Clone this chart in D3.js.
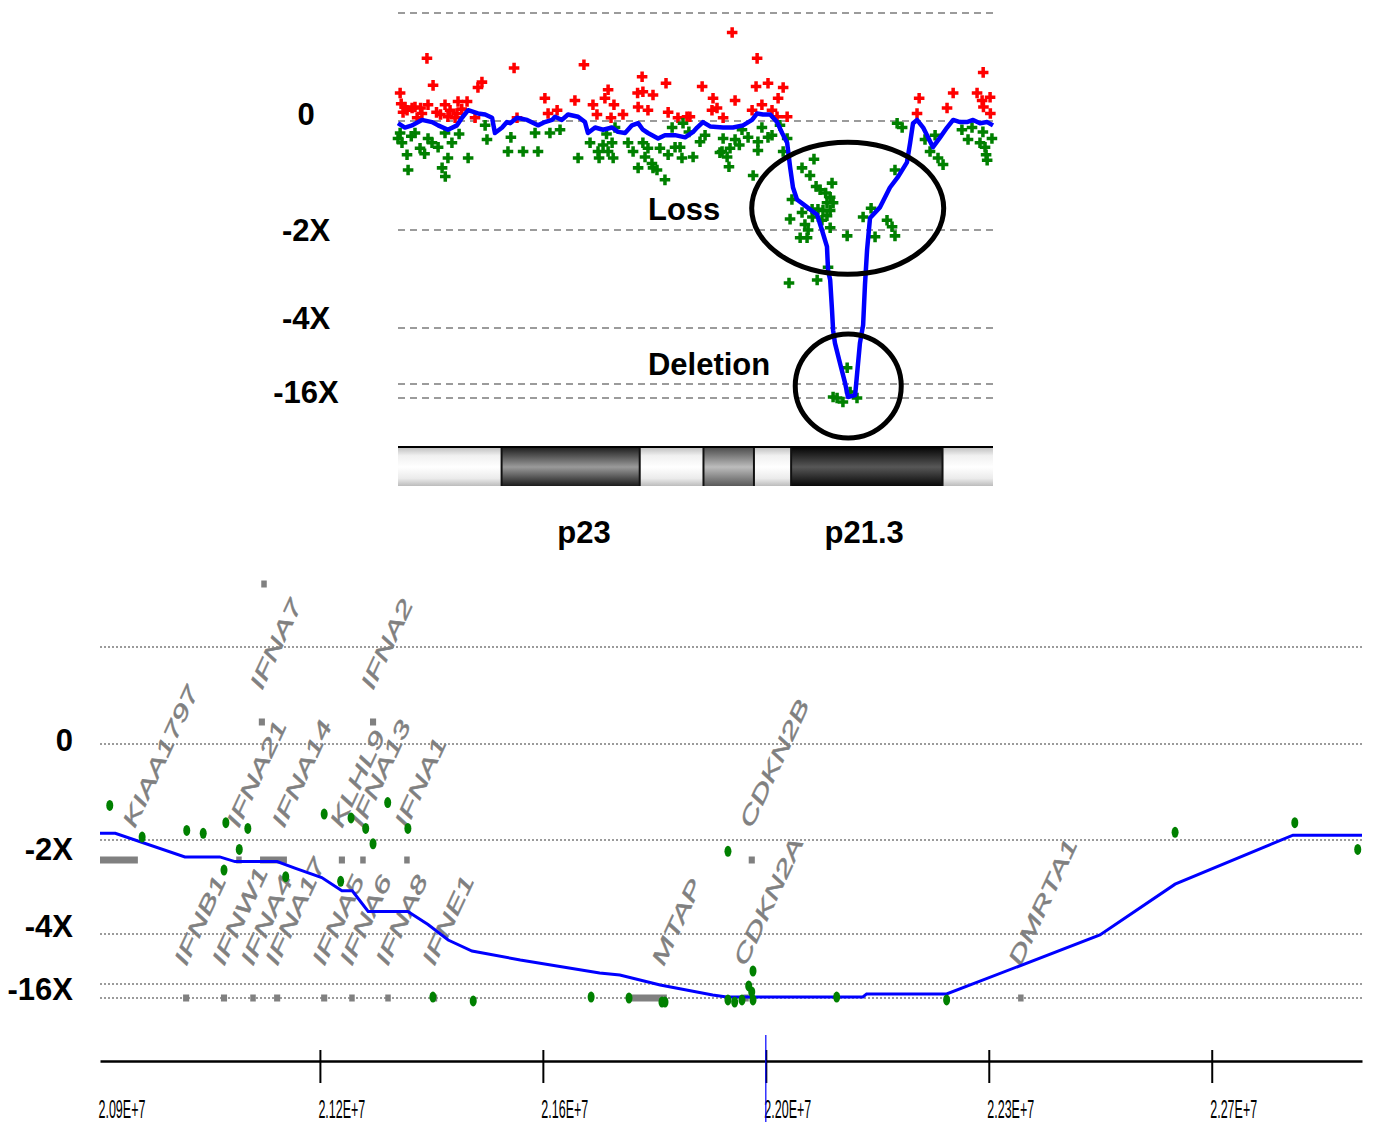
<!DOCTYPE html>
<html>
<head>
<meta charset="utf-8">
<script src="https://cdn.jsdelivr.net/npm/d3@7"></script>
<style>
  body { margin: 0; background: #fff; }
  svg { display: block; }
</style>
</head>
<body>
<div id="chart"></div>
<script>
// ---------- shared copy-number levels (log2 ratio) ----------
var levelVals = [1, 0, -1, -2, -3, -4];
var levelLabels = ["0", "-2X", "-4X", "-16X"];
var topLabelPos = [0.07, -1, -1.9, -3.57];
var botLabelPos = [0.04, -1.09, -1.91, -3.36];

// ---------- top panel: chromosome 9p overview (Mb) ----------
var topRedPos = [6.19,6.42,5.18,5.36,5.63,5.74,5.29,6.23,6.00,5.82, 6.87,7.06,7.32,7.36,7.70,6.98,7.25,8.00,8.11,8.26,
  9.47,9.58,10.63,10.75,11.09,11.76,12.10,12.44,12.59,12.89, 13.01,13.23,13.12,13.57,14.14,14.29,14.12,14.32,14.70,14.51,
  15.19,15.27,15.64,15.98,17.68,16.55,16.96,16.92,17.11,17.34, 17.79,18.62,18.58,19.03,18.80,18.43,19.18,19.41,19.60,19.37,
  19.75,16.09,24.72,24.64,25.77,26.00,27.13,26.90,27.09,27.39, 27.14,27.40,5.44,5.95,6.55,7.50,5.22,6.70];
var topRedVal = [0.58,0.33,0.26,0.13,0.12,0.13,0.08,0.15,0.07,0.03, 0.15,0.10,0.07,0.18,0.18,0.04,0.03,0.03,0.31,0.36,
  0.49,0.03,0.21,0.07,0.10,0.19,0.52,0.15,0.06,0.21, 0.29,0.15,0.03,0.06,0.13,0.41,0.26,0.27,0.24,0.10,
  0.35,0.08,0.03,0.04,0.82,0.32,0.21,0.10,0.12,0.03, 0.19,0.58,0.32,0.35,0.15,0.10,0.10,0.21,0.31,0.04,
  0.04,0.04,0.21,0.07,0.12,0.26,0.45,0.26,0.19,0.22, 0.13,0.07,0.10,0.12,0.08,0.11,0.16,0.06];

var topGreenPos = [5.18,5.25,5.44,5.48,5.10,5.74,5.93,6.23,6.38,6.61, 6.87,6.98,6.76,6.88,7.13,7.74,8.38,8.45,9.24,9.35,
  9.81,10.26,10.37,10.82,11.20,11.88,12.33,12.63,12.67,12.82, 13.16,13.20,13.27,13.01,13.76,13.95,14.14,14.32,14.51,14.66,
  14.70,14.85,14.96,15.15,15.27,15.53,15.72,15.79,15.42,15.83, 16.21,16.47,16.66,17.30,17.34,17.49,17.60,17.56,17.79,18.05,
  18.28,18.47,18.65,18.65,18.80,19.03,19.18,19.48,19.75,19.60, 17.22,20.31,20.76,20.61,20.84,20.99,21.44,21.37,21.25,21.48,
  21.37,21.10,20.91,20.69,19.93,20.31,19.86,20.42,20.54,20.24, 20.50,21.37,21.06,21.25,22.01,21.29,20.88,19.82,22.91,22.61,
  23.06,23.51,23.70,23.81,23.81,22.01,21.63,21.85,22.12,22.38, 21.48,23.89,24.08,24.94,25.32,25.13,25.43,25.62,26.33,26.56,
  26.71,27.01,27.20,27.24,27.28,27.46,27.12,5.60,6.10,7.40, 12.95,14.40,16.05,17.95,21.20,20.70];
var topGreenVal = [-0.11,-0.20,-0.31,-0.45,-0.16,-0.11,-0.25,-0.16,-0.20,-0.24, -0.11,-0.34,-0.43,-0.51,-0.20,-0.34,-0.04,-0.17,-0.28,-0.15,
  -0.28,-0.11,-0.28,-0.11,-0.08,-0.34,-0.20,-0.28,-0.34,-0.22, -0.20,-0.34,-0.06,-0.28,-0.20,-0.28,-0.43,-0.20,-0.25,-0.39,
  -0.43,-0.45,-0.25,-0.54,-0.31,-0.24,-0.24,-0.34,-0.06,-0.02, -0.33,-0.19,-0.13,-0.28,-0.16,-0.33,-0.25,-0.42,-0.17,-0.08,
  -0.15,-0.50,-0.19,-0.27,-0.06,-0.15,-0.13,-0.04,-0.16,-0.28, -0.29,-0.43,-0.35,-0.50,-0.60,-0.63,-0.57,-0.70,-0.75,-0.75,
  -0.82,-0.82,-0.81,-0.81,-0.72,-0.84,-0.90,-0.95,-1.00,-1.08, -1.08,-0.98,-0.91,-0.87,-1.06,-1.38,-1.51,-1.54,-0.80,-0.88,
  -1.07,-0.91,-0.97,-1.06,-0.45,-2.71,-4.00,-4.29,-3.57,-4.00, -3.93,-0.02,-0.06,-0.17,-0.13,-0.28,-0.34,-0.40,-0.08,-0.17,
  -0.06,-0.20,-0.24,-0.31,-0.36,-0.16,-0.10,-0.14,-0.30,-0.12, -0.12,-0.33,-0.10,-0.22,-0.66,-0.88];

var topLinePos = [5.10,5.36,5.63,6.00,6.38,6.61,6.98,7.32,7.51,7.74, 8.11,8.38,8.64,8.75,9.02,9.20,9.32,9.58,9.96,10.37,
  10.63,10.90,11.01,11.27,11.50,11.88,12.14,12.25,12.52,12.82, 13.16,13.38,13.65,13.91,14.14,14.32,14.51,14.89,15.15,15.53,
  15.91,16.21,16.36,16.58,16.85,17.34,17.71,18.09,18.43,18.62, 18.84,19.11,19.37,19.56,19.75,19.86,19.97,20.12,20.50,20.88,
  21.06,21.25,21.29,21.37,21.44,21.48,21.55,21.74,21.93,22.04, 22.31,22.42,22.49,22.61,22.68,22.76,22.87,23.25,23.62,23.93,
  24.26,24.38,24.49,24.64,24.87,25.24,25.51,25.77,26.00,26.26, 26.52,26.75,27.01,27.28,27.50];
var topLineVal = [-0.02,-0.06,-0.04,0.01,-0.01,-0.04,-0.08,-0.04,0.03,0.10, 0.07,0.06,0.03,-0.11,-0.06,-0.01,-0.02,0.03,0.01,-0.04,
  -0.01,0.01,0.04,0.01,0.06,0.04,-0.01,-0.11,-0.06,-0.08, -0.06,-0.10,-0.11,-0.04,-0.02,-0.08,-0.11,-0.16,-0.13,-0.13,
  -0.15,-0.10,-0.06,-0.01,-0.05,-0.06,-0.06,-0.04,0.01,0.07, 0.06,0.06,-0.01,-0.11,-0.20,-0.42,-0.61,-0.72,-0.79,-0.86,
  -1.00,-1.17,-1.41,-1.51,-1.82,-2.04,-2.27,-2.63,-2.98,-3.93, -3.79,-2.63,-2.27,-1.97,-1.56,-1.20,-0.89,-0.79,-0.61,-0.51,
  -0.38,-0.20,-0.02,0.01,-0.06,-0.24,-0.15,-0.06,0.01,-0.01, -0.01,0.01,-0.02,-0.01,-0.04];

// cytobands of 9p shown under the overview
var bandStart = [5.1, 9.0, 14.2, 16.6, 18.5, 19.9, 25.6];
var bandEnd = [9.0, 14.2, 16.6, 18.5, 19.9, 25.6, 27.5];
var bandStain = ["gneg", "gpos75", "gneg", "gpos50", "gneg", "gpos100", "gneg"];
var bandLabels = ["p23", "p21.3"];
var bandLabelPos = [12.1, 22.65];

// annotations
var noteText = ["Loss", "Deletion"];
var notePos = [14.51, 14.51];
var noteVal = [-0.91, -2.84];
var ringPos = [22.03, 22.05];
var ringVal = [-0.80, -3.14];

// ---------- bottom panel: zoom on CDKN2A region (kb) ----------
var botPointPos = [20916,20969,21042,21069,21106,21142,21128,21103,21204,21267, 21311,21335,21347,21371,21404,21294,21445,21511,21704,21766,
  21820,21825,21928,21928,21939,21951,21962,21969,21969,21967, 22106,22286,22660,22856,22959];
var botPointVal = [-0.64,-0.97,-0.90,-0.93,-0.82,-0.88,-1.10,-1.32,-1.39,-0.73, -0.77,-0.88,-1.04,-0.61,-0.88,-1.44,-3.93,-4.21,-3.93,-4.00,
  -4.29,-4.29,-1.12,-4.14,-4.29,-4.14,-3.14,-2.74,-4.14,-3.57, -3.93,-4.14,-0.92,-0.82,-1.10];

var botLinePos = [20900,20925,21039,21096,21121,21190,21219,21263,21296,21313, 21339,21404,21437,21470,21509,21588,21718,21751,21817,21903,
  21926,22149,22155,22286,22537,22660,22853,22966];
var botLineVal = [-0.93,-0.93,-1.18,-1.18,-1.23,-1.23,-1.30,-1.40,-1.54,-1.54, -1.76,-1.76,-1.90,-2.12,-2.34,-2.52,-2.78,-2.82,-3.07,-3.79,
  -3.93,-3.93,-3.71,-3.71,-2.02,-1.47,-0.95,-0.95];

var geneNames = ["KIAA1797","IFNA21","IFNA14","KLHL9","IFNA13","IFNA1","CDKN2B","IFNA7","IFNA2","",
  "IFNB1","IFNW1","IFNA4","IFNA17","IFNA5","IFNA6","IFNA8","IFNE1","MTAP","CDKN2A","DMRTA1"];
var geneStart = [20900,21123,21162,21291,21326,21398,21962,21160,21342,21164,
  21036,21098,21146,21185,21262,21308,21367,21442,21763,21953,22403];
var geneEnd = [20962,21132,21206,21301,21335,21407,21972,21170,21352,21173,
  21046,21108,21155,21195,21272,21317,21376,21452,21828,21962,22412];
var geneRow = [1,1,1,1,1,1,1,2,2,3, 0,0,0,0,0,0,0,0,0,0,0];

var tickVals = [20900, 21260, 21625, 21990, 22355, 22720];
var tickLabels = ["2.09E+7", "2.12E+7", "2.16E+7", "2.20E+7", "2.23E+7", "2.27E+7"];
var cursorPos = 21990;

// ---------- drawing ----------
var W = 1373, H = 1122;
var font = "'Liberation Sans', Arial, sans-serif";

var svg = d3.select("#chart").append("svg")
    .attr("width", W)
    .attr("height", H);

var defs = svg.append("defs");
function gradient(id, stops) {
  var g = defs.append("linearGradient").attr("id", id)
      .attr("x1", 0).attr("y1", 0).attr("x2", 0).attr("y2", 1);
  stops.forEach(function(s) { g.append("stop").attr("offset", s[0]).attr("stop-color", s[1]); });
}
gradient("gneg", [[0, "#c2c2c2"], [0.2, "#f0f0f0"], [0.5, "#ffffff"], [0.8, "#ebebeb"], [1, "#bcbcbc"]]);
gradient("gpos50", [[0, "#505050"], [0.5, "#bcbcbc"], [1, "#5a5a5a"]]);
gradient("gpos75", [[0, "#222"], [0.5, "#9a9a9a"], [1, "#1c1c1c"]]);
gradient("gpos100", [[0, "#080808"], [0.5, "#575757"], [1, "#080808"]]);

// ===== top panel =====
var xTop = d3.scaleLinear().domain([5.1, 27.5]).range([398, 993]);
var yTop = d3.scaleLinear().domain(levelVals).range([13, 121, 230, 328, 384, 398]);

var gTop = svg.append("g");

gTop.append("g").selectAll("line")
  .data(levelVals)
  .enter().append("line")
    .attr("x1", xTop(5.1)).attr("x2", xTop(27.5))
    .attr("y1", function(d) { return yTop(d); })
    .attr("y2", function(d) { return yTop(d); })
    .attr("stroke", "#9b9b9b")
    .attr("stroke-width", 2)
    .attr("stroke-dasharray", "7,5");

gTop.append("g").selectAll("text")
  .data(levelLabels)
  .enter().append("text")
    .attr("x", 306)
    .attr("y", function(d, i) { return yTop(topLabelPos[i]); })
    .attr("dy", "0.36em")
    .attr("text-anchor", "middle")
    .style("font", "bold 31px " + font)
    .text(function(d) { return d; });

var cross = d3.symbol().type(d3.symbolCross).size(62);

gTop.append("g").selectAll("path")
  .data(topRedPos)
  .enter().append("path")
    .attr("d", cross)
    .attr("transform", function(d, i) { return "translate(" + xTop(d) + "," + yTop(topRedVal[i]) + ")"; })
    .attr("fill", "#ff0000");

gTop.append("g").selectAll("path")
  .data(topGreenPos)
  .enter().append("path")
    .attr("d", cross)
    .attr("transform", function(d, i) { return "translate(" + xTop(d) + "," + yTop(topGreenVal[i]) + ")"; })
    .attr("fill", "#008000");

var topLine = d3.line()
    .x(function(d) { return xTop(d); })
    .y(function(d, i) { return yTop(topLineVal[i]); });

gTop.append("path")
    .datum(topLinePos)
    .attr("d", topLine)
    .attr("fill", "none")
    .attr("stroke", "#0000ff")
    .attr("stroke-width", 4.5)
    .attr("stroke-linejoin", "round");

// ideogram
var bandTop = 448, bandBottom = 486;
gTop.append("g").selectAll("rect")
  .data(bandStart)
  .enter().append("rect")
    .attr("x", function(d) { return xTop(d); })
    .attr("y", bandTop)
    .attr("width", function(d, i) { return xTop(bandEnd[i]) - xTop(d); })
    .attr("height", bandBottom - bandTop)
    .attr("fill", function(d, i) { return "url(#" + bandStain[i] + ")"; });

gTop.append("g").selectAll("line")
  .data(bandStart.slice(1))
  .enter().append("line")
    .attr("x1", function(d) { return xTop(d); })
    .attr("x2", function(d) { return xTop(d); })
    .attr("y1", bandTop).attr("y2", bandBottom)
    .attr("stroke", "#111")
    .attr("stroke-width", 2);

gTop.append("line")
    .attr("x1", xTop(5.1)).attr("x2", xTop(27.5))
    .attr("y1", 447).attr("y2", 447)
    .attr("stroke", "#000")
    .attr("stroke-width", 2);

gTop.append("g").selectAll("text")
  .data(bandLabels)
  .enter().append("text")
    .attr("x", function(d, i) { return xTop(bandLabelPos[i]); })
    .attr("y", 543)
    .attr("text-anchor", "middle")
    .style("font", "bold 31px " + font)
    .text(function(d) { return d; });

// annotations
gTop.append("g").selectAll("text")
  .data(noteText)
  .enter().append("text")
    .attr("x", function(d, i) { return xTop(notePos[i]); })
    .attr("y", function(d, i) { return yTop(noteVal[i]); })
    .style("font", "bold 31px " + font)
    .text(function(d) { return d; });

gTop.append("g").selectAll("ellipse")
  .data(ringPos)
  .enter().append("ellipse")
    .attr("cx", function(d) { return xTop(d); })
    .attr("cy", function(d, i) { return yTop(ringVal[i]); })
    .attr("rx", function(d, i) { return i === 0 ? 96 : 53; })
    .attr("ry", function(d, i) { return i === 0 ? 66 : 52; })
    .attr("fill", "none")
    .attr("stroke", "#000")
    .attr("stroke-width", 5);

// ===== bottom panel =====
var xBot = d3.scaleLinear().domain([20900, 22966]).range([100, 1362]);
var yBot = d3.scaleLinear().domain(levelVals).range([647, 744, 840, 934, 984, 998]);
var geneY = d3.scaleLinear().domain([0, 3]).range([998, 584]);

var gBot = svg.append("g");

gBot.append("g").selectAll("line")
  .data(levelVals)
  .enter().append("line")
    .attr("x1", xBot(20900)).attr("x2", xBot(22966))
    .attr("y1", function(d) { return yBot(d); })
    .attr("y2", function(d) { return yBot(d); })
    .attr("stroke", "#9b9b9b")
    .attr("stroke-width", 2)
    .attr("stroke-dasharray", "2,2");

gBot.append("g").selectAll("text")
  .data(levelLabels)
  .enter().append("text")
    .attr("x", 73)
    .attr("y", function(d, i) { return yBot(botLabelPos[i]); })
    .attr("dy", "0.36em")
    .attr("text-anchor", "end")
    .style("font", "bold 31px " + font)
    .text(function(d) { return d; });

// gene track
gBot.append("g").selectAll("rect")
  .data(geneStart)
  .enter().append("rect")
    .attr("x", function(d) { return xBot(d); })
    .attr("y", function(d, i) { return geneY(geneRow[i]) - 3.5; })
    .attr("width", function(d, i) { return xBot(geneEnd[i]) - xBot(d); })
    .attr("height", 7)
    .attr("fill", "#808080");

gBot.append("g").selectAll("text")
  .data(geneNames)
  .enter().filter(function(d) { return d !== ""; }).append("text")
    .attr("transform", function(d) {
      var i = geneNames.indexOf(d);
      return "translate(" + (xBot(geneEnd[i]) - 3) + "," + (geneY(geneRow[i]) - 31) + ") rotate(-65) scale(1.62,1)";
    })
    .attr("fill", "#808080")
    .attr("stroke", "#808080")
    .attr("stroke-width", 0.4)
    .style("font", "italic 21px " + font)
    .text(function(d) { return d; });

var botLine = d3.line()
    .x(function(d) { return xBot(d); })
    .y(function(d, i) { return yBot(botLineVal[i]); });

gBot.append("path")
    .datum(botLinePos)
    .attr("d", botLine)
    .attr("fill", "none")
    .attr("stroke", "#0000ff")
    .attr("stroke-width", 3);

gBot.append("g").selectAll("ellipse")
  .data(botPointPos)
  .enter().append("ellipse")
    .attr("cx", function(d) { return xBot(d); })
    .attr("cy", function(d, i) { return yBot(botPointVal[i]); })
    .attr("rx", 3.5)
    .attr("ry", 5.5)
    .attr("fill", "#008000");

// position axis
var axis = d3.axisBottom(xBot)
    .tickValues(tickVals)
    .tickFormat(function(d, i) { return tickLabels[i]; })
    .tickSize(22)
    .tickSizeOuter(0);

var gAxis = gBot.append("g")
    .attr("transform", "translate(0,1061)")
    .call(axis);

gAxis.select(".domain").attr("stroke", "#000").attr("stroke-width", 2.5);
gAxis.selectAll(".tick line")
    .attr("y1", -11)
    .attr("stroke", "#000")
    .attr("stroke-width", 2)
    .style("display", function(d, i) { return i === 0 ? "none" : null; });
gAxis.selectAll(".tick text")
    .attr("x", -4)
    .attr("y", 57)
    .attr("dy", 0)
    .attr("text-anchor", "start")
    .attr("transform", "scale(0.5,1)")
    .attr("fill", "#000")
    .style("font", "25px " + font);

gBot.append("line")
    .attr("x1", xBot(cursorPos)).attr("x2", xBot(cursorPos))
    .attr("y1", 1035).attr("y2", H)
    .attr("stroke", "#0000ff")
    .attr("stroke-width", 1.2);
</script>
</body>
</html>
